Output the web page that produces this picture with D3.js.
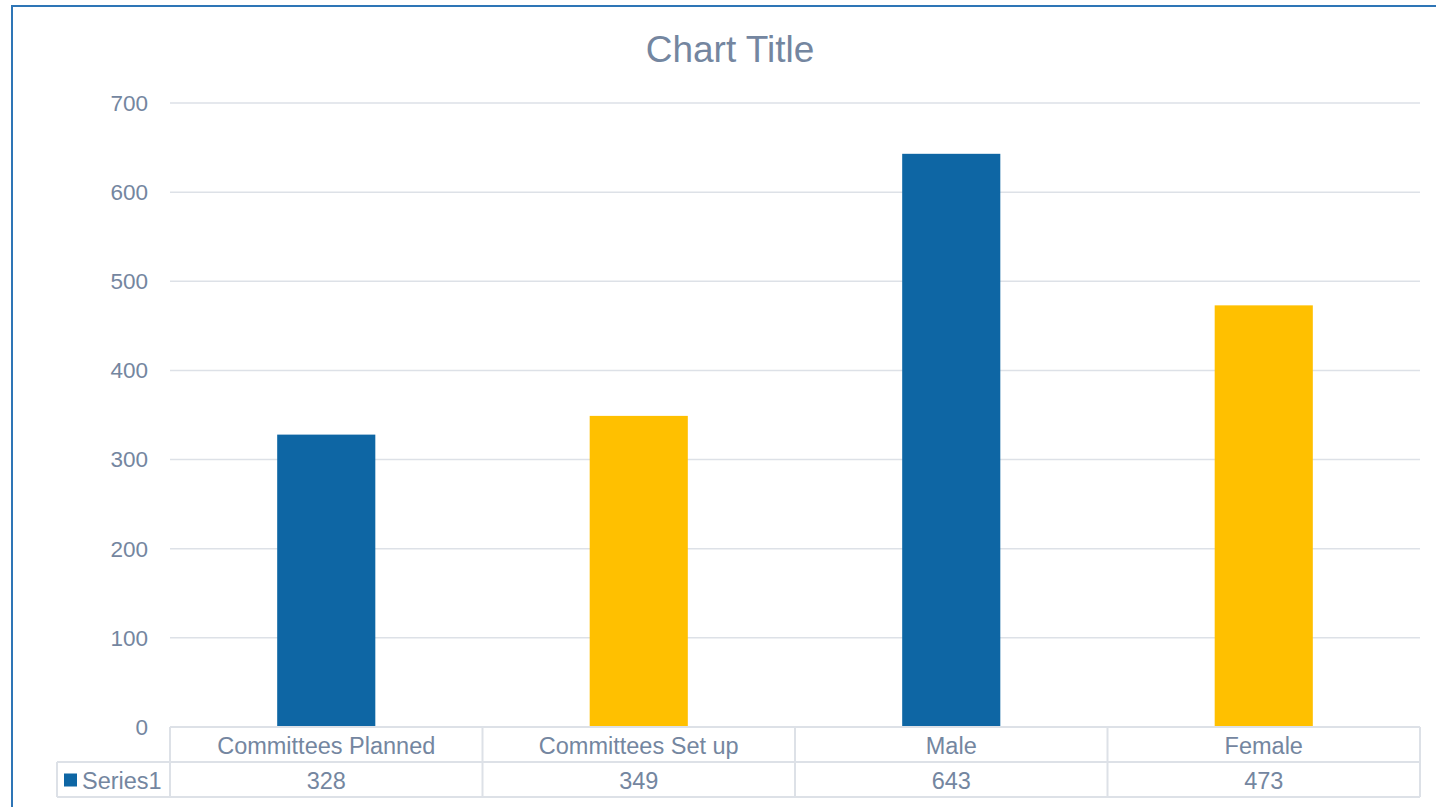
<!DOCTYPE html>
<head>
  <meta charset="utf-8">
  <script src='https://d3js.org/d3.v7.min.js'></script>
  <style>
    body {
      font-family: "Liberation Sans", Arial, sans-serif;
      margin: 0;
      background: #fff;
      overflow: hidden;
    }
  </style>
</head>

<body>
<div id='vis'></div>

<script>
const categories = ['Committees Planned', 'Committees Set up', 'Male', 'Female'];
const series1 = [328, 349, 643, 473];
const barColours = ['#0E66A4', '#FFC000', '#0E66A4', '#FFC000'];
const yTicks = [0, 100, 200, 300, 400, 500, 600, 700];
const seriesName = 'Series1';

const width = 1436;
const height = 807;
const textColour = '#7486A0';
const gridColour = '#DDE1E7';
const plot = { left: 170, right: 1420, top: 103, bottom: 727 };
const rowH = 35;
const tableFont = '23.5px';

const svg = d3.select('#vis')
  .append('svg')
  .attr('width', width)
  .attr('height', height);

// chart frame (runs past the window on the right and bottom)
svg.append('rect')
  .attr('x', 12)
  .attr('y', 6)
  .attr('width', width)
  .attr('height', height)
  .attr('fill', 'none')
  .attr('stroke', '#2E75B6')
  .attr('stroke-width', 2);

svg.append('text')
  .attr('x', 730)
  .attr('y', 62)
  .attr('text-anchor', 'middle')
  .style('font-size', '37px')
  .attr('fill', textColour)
  .text('Chart Title');

const x = d3.scaleBand()
  .domain(categories)
  .range([plot.left, plot.right])
  .paddingInner(0)
  .paddingOuter(0);

const y = d3.scaleLinear()
  .domain([0, 700])
  .range([plot.bottom, plot.top]);

// gridlines
svg.append('g')
  .selectAll('line')
  .data(yTicks)
  .enter()
  .append('line')
  .attr('x1', plot.left)
  .attr('x2', plot.right)
  .attr('y1', d => y(d))
  .attr('y2', d => y(d))
  .attr('stroke', gridColour)
  .attr('stroke-width', 1.5);

// y tick labels
svg.append('g')
  .selectAll('text')
  .data(yTicks)
  .enter()
  .append('text')
  .attr('x', 148)
  .attr('y', d => y(d))
  .attr('dy', '0.35em')
  .attr('text-anchor', 'end')
  .style('font-size', '22.5px')
  .attr('fill', textColour)
  .text(d => d);

// bars
const barW = x.bandwidth() * 0.314;
svg.append('g')
  .selectAll('rect')
  .data(series1)
  .enter()
  .append('rect')
  .attr('x', (d, i) => x(categories[i]) + (x.bandwidth() - barW) / 2)
  .attr('y', d => y(d))
  .attr('width', barW)
  .attr('height', d => y(0) - y(d))
  .attr('fill', (d, i) => barColours[i]);

// data table
const table = svg.append('g')
  .attr('fill', 'none')
  .attr('stroke', gridColour)
  .attr('stroke-width', 2);

table.append('line')
  .attr('x1', plot.left).attr('x2', plot.right)
  .attr('y1', plot.bottom).attr('y2', plot.bottom);
table.append('line')
  .attr('x1', 57).attr('x2', plot.right)
  .attr('y1', plot.bottom + rowH).attr('y2', plot.bottom + rowH);
table.append('line')
  .attr('x1', 57).attr('x2', plot.right)
  .attr('y1', plot.bottom + 2 * rowH).attr('y2', plot.bottom + 2 * rowH);
table.append('line')
  .attr('x1', 57).attr('x2', 57)
  .attr('y1', plot.bottom + rowH).attr('y2', plot.bottom + 2 * rowH);

const edges = categories.map(c => x(c)).concat([plot.right]);
table.selectAll('.vline')
  .data(edges)
  .enter()
  .append('line')
  .attr('x1', d => d).attr('x2', d => d)
  .attr('y1', plot.bottom).attr('y2', plot.bottom + 2 * rowH);

svg.append('g')
  .selectAll('text')
  .data(categories)
  .enter()
  .append('text')
  .attr('x', d => x(d) + x.bandwidth() / 2)
  .attr('y', plot.bottom + rowH / 2 + 1)
  .attr('dy', '0.35em')
  .attr('text-anchor', 'middle')
  .style('font-size', tableFont)
  .attr('fill', textColour)
  .text(d => d);

svg.append('g')
  .selectAll('text')
  .data(series1)
  .enter()
  .append('text')
  .attr('x', (d, i) => x(categories[i]) + x.bandwidth() / 2)
  .attr('y', plot.bottom + rowH * 1.5 + 1)
  .attr('dy', '0.35em')
  .attr('text-anchor', 'middle')
  .style('font-size', tableFont)
  .attr('fill', textColour)
  .text(d => d);

// legend key in table
svg.append('rect')
  .attr('x', 64)
  .attr('y', plot.bottom + rowH * 1.5 - 6)
  .attr('width', 13)
  .attr('height', 13)
  .attr('fill', barColours[0]);

svg.append('text')
  .attr('x', 82)
  .attr('y', plot.bottom + rowH * 1.5 + 1)
  .attr('dy', '0.35em')
  .style('font-size', tableFont)
  .attr('fill', textColour)
  .text(seriesName);
</script>
</body>
